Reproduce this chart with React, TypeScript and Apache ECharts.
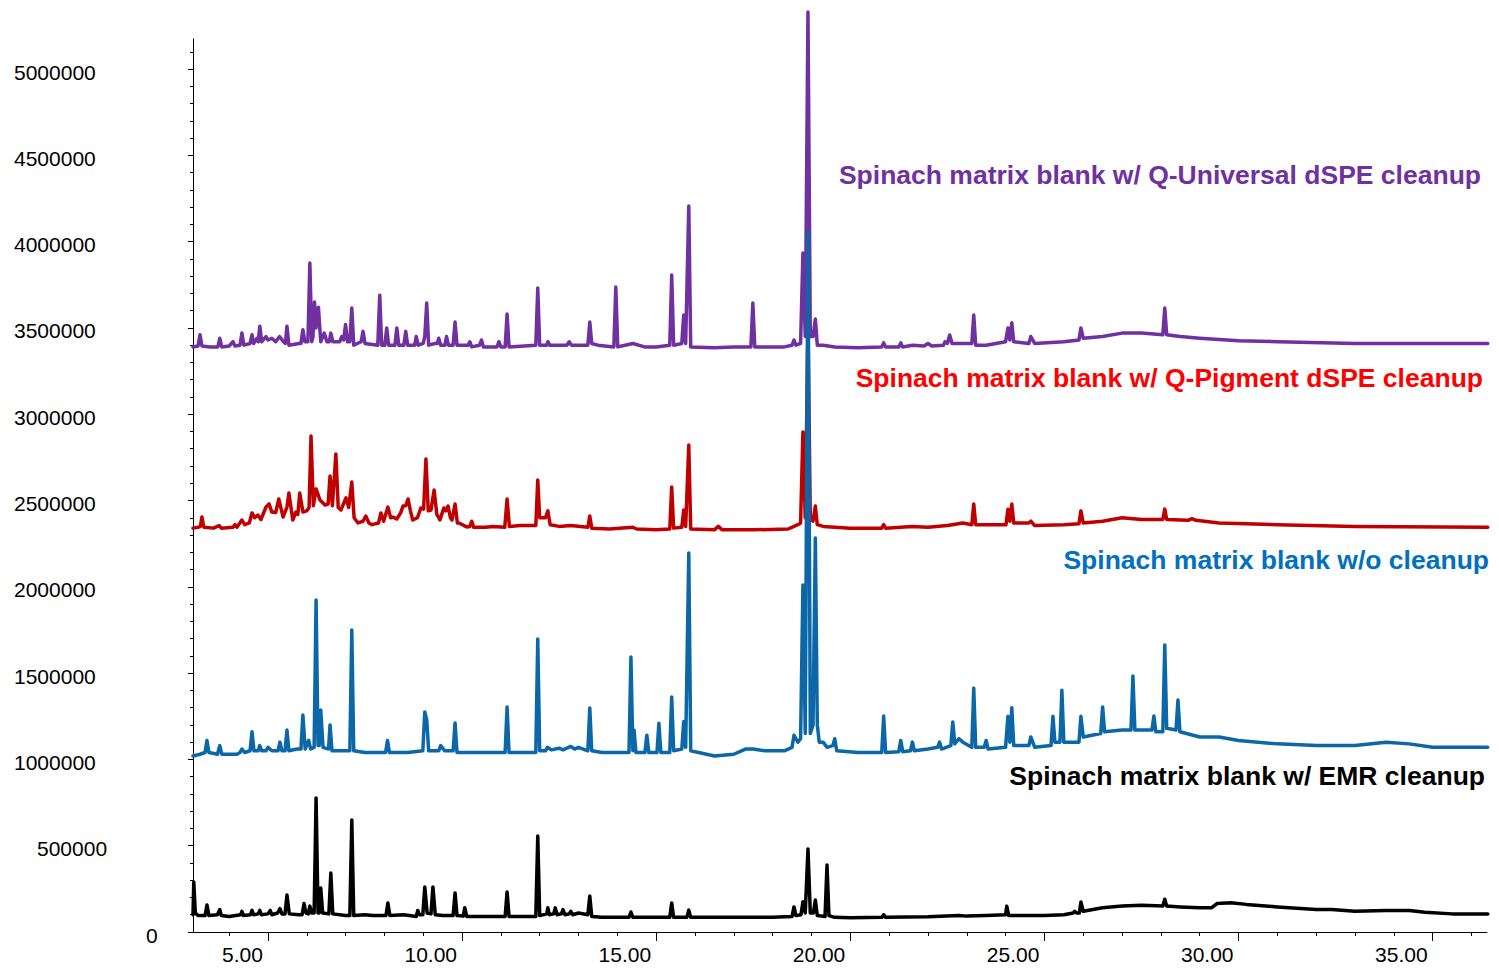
import React, { useEffect, useRef } from "react";
import * as echarts from "echarts";

// Retention time (min), abundance pairs
const purpleTrace: [number, number][] = [
  [3.07,3.39e6],[3.2,3.395e6],[3.25,3.46e6],[3.3,3.395e6],[3.5,3.39e6],[3.71,3.39e6],[3.76,3.44e6],[3.81,3.39e6],[4.0,3.395e6],[4.1,3.42e6],[4.15,3.395e6],[4.28,3.40e6],[4.33,3.47e6],[4.38,3.40e6],[4.54,3.41e6],[4.59,3.46e6],[4.63,3.41e6],[4.72,3.44e6],[4.75,3.42e6],[4.79,3.51e6],[4.84,3.42e6],[4.95,3.45e6],[5.0,3.43e6],[5.1,3.44e6],[5.2,3.42e6],[5.3,3.45e6],[5.4,3.42e6],[5.45,3.41e6],[5.49,3.51e6],[5.54,3.40e6],[5.8,3.41e6],[5.85,3.41e6],[5.9,3.49e6],[5.95,3.42e6],[6.03,3.42e6],[6.08,3.876e6],[6.13,3.42e6],[6.16,3.45e6],[6.2,3.65e6],[6.24,3.5e6],[6.3,3.62e6],[6.36,3.42e6],[6.45,3.47e6],[6.52,3.42e6],[6.58,3.42e6],[6.62,3.47e6],[6.67,3.42e6],[6.85,3.42e6],[6.9,3.45e6],[6.95,3.43e6],[7.0,3.52e6],[7.05,3.42e6],[7.11,3.42e6],[7.16,3.615e6],[7.21,3.40e6],[7.4,3.42e6],[7.45,3.48e6],[7.5,3.41e6],[7.83,3.40e6],[7.88,3.69e6],[7.93,3.40e6],[8.01,3.40e6],[8.06,3.50e6],[8.11,3.40e6],[8.27,3.40e6],[8.32,3.50e6],[8.37,3.40e6],[8.5,3.40e6],[8.55,3.48e6],[8.6,3.40e6],[8.78,3.40e6],[8.82,3.45e6],[8.87,3.40e6],[9.0,3.41e6],[9.04,3.45e6],[9.09,3.644e6],[9.14,3.40e6],[9.3,3.41e6],[9.36,3.41e6],[9.4,3.44e6],[9.45,3.40e6],[9.56,3.40e6],[9.6,3.45e6],[9.65,3.40e6],[9.77,3.40e6],[9.82,3.534e6],[9.87,3.40e6],[10.16,3.40e6],[10.2,3.42e6],[10.25,3.39e6],[10.45,3.40e6],[10.5,3.43e6],[10.55,3.39e6],[10.9,3.39e6],[10.95,3.42e6],[11.0,3.39e6],[11.11,3.39e6],[11.16,3.58e6],[11.21,3.39e6],[11.9,3.40e6],[11.95,3.731e6],[12.0,3.40e6],[12.18,3.40e6],[12.21,3.42e6],[12.26,3.40e6],[12.7,3.40e6],[12.76,3.42e6],[12.82,3.40e6],[13.24,3.40e6],[13.29,3.534e6],[13.34,3.41e6],[13.5,3.40e6],[13.91,3.39e6],[13.96,3.737e6],[14.01,3.39e6],[14.2,3.40e6],[14.4,3.41e6],[14.7,3.39e6],[15.0,3.39e6],[15.35,3.40e6],[15.4,3.807e6],[15.45,3.40e6],[15.66,3.41e6],[15.71,3.575e6],[15.76,3.41e6],[15.84,4.206e6],[15.89,3.39e6],[16.5,3.385e6],[17.0,3.39e6],[17.44,3.39e6],[17.49,3.644e6],[17.54,3.39e6],[18.3,3.39e6],[18.5,3.40e6],[18.55,3.43e6],[18.6,3.40e6],[18.72,3.41e6],[18.78,3.934e6],[18.84,3.45e6],[18.91,5.33e6],[18.97,3.45e6],[19.04,3.45e6],[19.1,3.552e6],[19.15,3.40e6],[19.3,3.40e6],[19.6,3.39e6],[20.2,3.385e6],[20.81,3.39e6],[20.86,3.413e6],[20.91,3.39e6],[21.25,3.39e6],[21.3,3.413e6],[21.35,3.39e6],[21.6,3.40e6],[21.9,3.395e6],[22.0,3.41e6],[22.1,3.395e6],[22.4,3.40e6],[22.44,3.42e6],[22.5,3.41e6],[22.56,3.459e6],[22.62,3.41e6],[23.13,3.41e6],[23.18,3.575e6],[23.23,3.40e6],[23.5,3.40e6],[24.0,3.42e6],[24.06,3.50e6],[24.11,3.43e6],[24.16,3.53e6],[24.21,3.42e6],[24.6,3.41e6],[24.65,3.45e6],[24.75,3.41e6],[25.5,3.42e6],[25.89,3.43e6],[25.94,3.50e6],[26.0,3.44e6],[26.5,3.45e6],[27.0,3.47e6],[27.5,3.47e6],[28.05,3.46e6],[28.1,3.615e6],[28.15,3.46e6],[28.5,3.45e6],[29.0,3.44e6],[30,3.425e6],[31,3.42e6],[33,3.41e6],[36.42,3.41e6]
];

const redTrace: [number, number][] = [
  [3.07,2.34e6],[3.2,2.345e6],[3.26,2.35e6],[3.3,2.404e6],[3.35,2.345e6],[3.6,2.34e6],[3.74,2.355e6],[3.8,2.34e6],[4.1,2.345e6],[4.15,2.36e6],[4.2,2.345e6],[4.33,2.387e6],[4.4,2.36e6],[4.52,2.37e6],[4.59,2.428e6],[4.66,2.40e6],[4.74,2.416e6],[4.82,2.39e6],[4.95,2.462e6],[5.03,2.48e6],[5.1,2.433e6],[5.2,2.43e6],[5.28,2.509e6],[5.39,2.404e6],[5.49,2.462e6],[5.54,2.544e6],[5.64,2.387e6],[5.72,2.433e6],[5.77,2.42e6],[5.82,2.544e6],[5.9,2.433e6],[6.0,2.44e6],[6.06,2.46e6],[6.11,2.874e6],[6.17,2.47e6],[6.24,2.567e6],[6.34,2.503e6],[6.47,2.474e6],[6.55,2.48e6],[6.6,2.642e6],[6.66,2.47e6],[6.75,2.77e6],[6.81,2.46e6],[6.88,2.445e6],[7.01,2.515e6],[7.08,2.46e6],[7.16,2.607e6],[7.22,2.40e6],[7.32,2.37e6],[7.45,2.38e6],[7.52,2.41e6],[7.6,2.37e6],[7.68,2.36e6],[7.85,2.37e6],[7.91,2.428e6],[7.98,2.38e6],[8.09,2.462e6],[8.16,2.40e6],[8.22,2.404e6],[8.32,2.393e6],[8.42,2.43e6],[8.48,2.468e6],[8.55,2.47e6],[8.61,2.509e6],[8.67,2.44e6],[8.73,2.387e6],[8.85,2.40e6],[8.94,2.457e6],[9.01,2.45e6],[9.07,2.741e6],[9.13,2.44e6],[9.2,2.445e6],[9.28,2.561e6],[9.35,2.42e6],[9.43,2.387e6],[9.53,2.457e6],[9.58,2.44e6],[9.64,2.468e6],[9.7,2.40e6],[9.74,2.387e6],[9.82,2.48e6],[9.88,2.37e6],[9.92,2.37e6],[10.12,2.347e6],[10.2,2.35e6],[10.25,2.38e6],[10.3,2.345e6],[10.6,2.345e6],[10.8,2.35e6],[11.1,2.345e6],[11.16,2.509e6],[11.22,2.35e6],[11.5,2.355e6],[11.9,2.355e6],[11.95,2.619e6],[12.0,2.40e6],[12.15,2.40e6],[12.21,2.44e6],[12.27,2.36e6],[12.5,2.35e6],[12.8,2.355e6],[13.24,2.345e6],[13.29,2.41e6],[13.34,2.34e6],[13.8,2.335e6],[14.4,2.345e6],[14.5,2.335e6],[15.0,2.33e6],[15.35,2.335e6],[15.4,2.578e6],[15.45,2.34e6],[15.66,2.345e6],[15.71,2.445e6],[15.76,2.35e6],[15.84,2.822e6],[15.89,2.335e6],[16.5,2.33e6],[16.6,2.35e6],[16.7,2.33e6],[17.5,2.33e6],[18.4,2.335e6],[18.55,2.35e6],[18.65,2.36e6],[18.72,2.37e6],[18.78,2.897e6],[18.84,2.40e6],[18.91,3.5e6],[18.97,2.40e6],[19.04,2.38e6],[19.1,2.468e6],[19.15,2.36e6],[19.3,2.35e6],[20.0,2.34e6],[20.81,2.34e6],[20.86,2.36e6],[20.91,2.34e6],[21.3,2.345e6],[21.6,2.35e6],[22.0,2.345e6],[22.5,2.355e6],[22.9,2.37e6],[23.13,2.36e6],[23.18,2.48e6],[23.23,2.36e6],[23.6,2.36e6],[24.01,2.36e6],[24.06,2.45e6],[24.11,2.38e6],[24.16,2.48e6],[24.21,2.37e6],[24.6,2.37e6],[24.65,2.38e6],[24.75,2.355e6],[25.5,2.36e6],[25.89,2.365e6],[25.94,2.44e6],[26.0,2.37e6],[26.5,2.38e6],[27.0,2.40e6],[27.5,2.39e6],[28.05,2.39e6],[28.1,2.45e6],[28.15,2.39e6],[28.7,2.385e6],[28.8,2.395e6],[28.9,2.385e6],[29.5,2.37e6],[31,2.36e6],[33,2.35e6],[36.42,2.345e6]
];

const blueTrace: [number, number][] = [
  [3.07,1.02e6],[3.25,1.03e6],[3.38,1.04e6],[3.43,1.11e6],[3.48,1.04e6],[3.7,1.03e6],[3.76,1.08e6],[3.81,1.03e6],[4.2,1.03e6],[4.28,1.04e6],[4.33,1.06e6],[4.4,1.04e6],[4.54,1.05e6],[4.59,1.16e6],[4.64,1.05e6],[4.75,1.05e6],[4.79,1.08e6],[4.84,1.05e6],[4.95,1.05e6],[5.0,1.07e6],[5.1,1.05e6],[5.26,1.05e6],[5.31,1.1e6],[5.36,1.05e6],[5.44,1.05e6],[5.49,1.17e6],[5.54,1.05e6],[5.75,1.06e6],[5.85,1.06e6],[5.9,1.257e6],[5.96,1.06e6],[6.05,1.11e6],[6.1,1.06e6],[6.19,1.07e6],[6.24,1.924e6],[6.29,1.08e6],[6.32,1.08e6],[6.36,1.286e6],[6.42,1.07e6],[6.56,1.06e6],[6.6,1.2e6],[6.65,1.05e6],[7.0,1.05e6],[7.11,1.05e6],[7.16,1.75e6],[7.21,1.05e6],[7.5,1.04e6],[8.03,1.04e6],[8.08,1.11e6],[8.13,1.04e6],[8.6,1.04e6],[8.99,1.05e6],[9.04,1.275e6],[9.09,1.23e6],[9.14,1.05e6],[9.4,1.05e6],[9.45,1.08e6],[9.55,1.05e6],[9.77,1.05e6],[9.82,1.211e6],[9.87,1.04e6],[10.5,1.04e6],[11.11,1.04e6],[11.16,1.304e6],[11.21,1.04e6],[11.9,1.04e6],[11.95,1.698e6],[12.0,1.05e6],[12.15,1.05e6],[12.2,1.07e6],[12.3,1.055e6],[12.5,1.065e6],[12.6,1.055e6],[12.8,1.075e6],[12.9,1.06e6],[13.0,1.07e6],[13.24,1.05e6],[13.29,1.298e6],[13.34,1.05e6],[13.6,1.04e6],[14.3,1.04e6],[14.35,1.593e6],[14.4,1.05e6],[14.43,1.17e6],[14.48,1.04e6],[14.71,1.04e6],[14.76,1.14e6],[14.81,1.04e6],[15.02,1.04e6],[15.07,1.21e6],[15.12,1.04e6],[15.35,1.04e6],[15.4,1.362e6],[15.45,1.05e6],[15.66,1.06e6],[15.71,1.22e6],[15.76,1.07e6],[15.84,2.196e6],[15.89,1.05e6],[16.5,1.02e6],[17.0,1.03e6],[17.3,1.06e6],[17.5,1.06e6],[17.8,1.05e6],[18.3,1.05e6],[18.5,1.07e6],[18.55,1.14e6],[18.65,1.1e6],[18.72,1.12e6],[18.78,2.01e6],[18.84,1.15e6],[18.91,4.056e6],[18.97,1.15e6],[19.04,1.2e6],[19.1,2.283e6],[19.15,1.2e6],[19.2,1.1e6],[19.3,1.1e6],[19.4,1.07e6],[19.55,1.08e6],[19.6,1.12e6],[19.65,1.05e6],[20.2,1.04e6],[20.81,1.04e6],[20.86,1.251e6],[20.91,1.04e6],[21.25,1.045e6],[21.3,1.11e6],[21.35,1.045e6],[21.55,1.05e6],[21.6,1.1e6],[21.65,1.05e6],[22.0,1.06e6],[22.25,1.07e6],[22.3,1.1e6],[22.35,1.06e6],[22.59,1.08e6],[22.64,1.217e6],[22.69,1.09e6],[22.8,1.12e6],[22.9,1.1e6],[23.13,1.07e6],[23.18,1.413e6],[23.23,1.07e6],[23.45,1.07e6],[23.5,1.11e6],[23.55,1.06e6],[24.0,1.07e6],[24.06,1.25e6],[24.11,1.1e6],[24.16,1.30e6],[24.21,1.08e6],[24.6,1.08e6],[24.65,1.13e6],[24.75,1.07e6],[25.17,1.08e6],[25.22,1.25e6],[25.27,1.1e6],[25.4,1.1e6],[25.45,1.40e6],[25.5,1.1e6],[25.89,1.1e6],[25.94,1.25e6],[26.0,1.13e6],[26.45,1.15e6],[26.5,1.304e6],[26.55,1.16e6],[27.0,1.17e6],[27.23,1.17e6],[27.28,1.483e6],[27.33,1.17e6],[27.77,1.17e6],[27.82,1.251e6],[27.87,1.16e6],[28.05,1.16e6],[28.1,1.663e6],[28.15,1.18e6],[28.39,1.17e6],[28.44,1.344e6],[28.49,1.16e6],[29.0,1.13e6],[29.5,1.13e6],[30,1.11e6],[31,1.09e6],[32,1.08e6],[32.35,1.08e6],[33,1.08e6],[33.8,1.1e6],[34.4,1.09e6],[35,1.07e6],[36.42,1.07e6]
];

const blackTrace: [number, number][] = [
  [3.07,100e3],[3.09,290e3],[3.13,110e3],[3.2,95e3],[3.38,95e3],[3.43,156e3],[3.48,95e3],[3.7,100e3],[3.76,130e3],[3.8,95e3],[4.0,90e3],[4.3,100e3],[4.33,120e3],[4.37,95e3],[4.55,100e3],[4.59,125e3],[4.63,100e3],[4.75,105e3],[4.79,125e3],[4.83,100e3],[5.0,105e3],[5.06,125e3],[5.1,100e3],[5.25,110e3],[5.31,135e3],[5.36,105e3],[5.44,105e3],[5.49,214e3],[5.55,105e3],[5.8,100e3],[5.88,100e3],[5.93,165e3],[5.98,110e3],[6.04,105e3],[6.08,150e3],[6.13,110e3],[6.19,110e3],[6.24,776e3],[6.29,110e3],[6.32,110e3],[6.36,255e3],[6.41,110e3],[6.57,105e3],[6.62,342e3],[6.67,105e3],[7.0,95e3],[7.11,95e3],[7.16,649e3],[7.21,95e3],[7.5,100e3],[7.7,95e3],[8.04,95e3],[8.09,168e3],[8.14,95e3],[8.5,100e3],[8.82,90e3],[8.86,125e3],[8.9,100e3],[8.99,100e3],[9.04,261e3],[9.1,110e3],[9.2,105e3],[9.25,261e3],[9.31,100e3],[9.5,95e3],[9.77,95e3],[9.82,226e3],[9.87,95e3],[10.03,92e3],[10.07,140e3],[10.12,90e3],[10.5,90e3],[11.11,90e3],[11.16,232e3],[11.21,90e3],[11.9,90e3],[11.95,556e3],[12.0,95e3],[12.18,105e3],[12.21,140e3],[12.25,100e3],[12.36,105e3],[12.4,140e3],[12.45,100e3],[12.56,105e3],[12.6,130e3],[12.65,100e3],[12.76,105e3],[12.8,120e3],[12.85,100e3],[13.0,110e3],[13.24,100e3],[13.29,209e3],[13.34,90e3],[13.6,85e3],[14.3,85e3],[14.35,116e3],[14.4,85e3],[15.35,85e3],[15.4,168e3],[15.45,85e3],[15.79,85e3],[15.84,127e3],[15.89,85e3],[17.0,85e3],[18.0,85e3],[18.5,90e3],[18.55,145e3],[18.6,95e3],[18.73,100e3],[18.78,175e3],[18.84,110e3],[18.91,481e3],[18.97,110e3],[19.05,110e3],[19.1,185e3],[19.15,95e3],[19.35,90e3],[19.4,388e3],[19.45,95e3],[19.6,85e3],[20.0,82e3],[20.81,85e3],[20.86,100e3],[20.91,85e3],[22.0,88e3],[22.8,95e3],[23.0,92e3],[23.5,95e3],[24.0,100e3],[24.03,150e3],[24.08,95e3],[25.0,95e3],[25.5,100e3],[25.74,110e3],[25.78,120e3],[25.83,110e3],[25.9,110e3],[25.94,174e3],[26.0,120e3],[26.5,140e3],[27.0,150e3],[27.5,155e3],[28.05,150e3],[28.1,190e3],[28.15,150e3],[28.5,145e3],[29.0,140e3],[29.3,140e3],[29.45,165e3],[29.8,170e3],[30.2,160e3],[31.0,145e3],[32.0,130e3],[32.4,130e3],[33.0,120e3],[33.8,125e3],[34.4,125e3],[34.8,115e3],[35.5,105e3],[36.42,105e3]
];

const yTickValues = [0, 500000, 1000000, 1500000, 2000000, 2500000, 3000000, 3500000, 4000000, 4500000, 5000000];
const yMinorTickValues = [100000,200000,300000,400000,600000,700000,800000,900000,1100000,1200000,1300000,1400000,1600000,1700000,1800000,1900000,2100000,2200000,2300000,2400000,2600000,2700000,2800000,2900000,3100000,3200000,3300000,3400000,3600000,3700000,3800000,3900000,4100000,4200000,4300000,4400000,4600000,4700000,4800000,4900000,5100000];
const xTickValues = [5, 10, 15, 20, 25, 30, 35];
const xMinorTickValues = [4,6,7,8,9,11,12,13,14,16,17,18,19,21,22,23,24,26,27,28,29,31,32,33,34,36];

const traceNames = [
  "Spinach matrix blank w/ Q-Universal dSPE cleanup",
  "Spinach matrix blank w/ Q-Pigment dSPE cleanup",
  "Spinach matrix blank w/o cleanup",
  "Spinach matrix blank w/ EMR cleanup",
];
const lineColors = ["#7030A0", "#C00000", "#0B67A8", "#000000"];
const labelColors = ["#7030A0", "#FF0000", "#0070C0", "#000000"];

const X_MIN = 3.07;
const X_MAX = 36.4;
const Y_MIN = 0;
const Y_MAX = 5174000;

export default function App() {
  const ref = useRef<HTMLDivElement>(null);
  useEffect(() => {
    if (!ref.current) return;
    const chart = echarts.init(ref.current, null, { renderer: "svg" });
    const font = "'Liberation Sans', Arial, sans-serif";
    const traces = [purpleTrace, redTrace, blueTrace, blackTrace];
    const labelPos = [
      { x: 1481, y: 175 },
      { x: 1483, y: 378 },
      { x: 1489, y: 560 },
      { x: 1485, y: 776 },
    ];
    chart.setOption({
      animation: false,
      backgroundColor: "#ffffff",
      grid: { left: 193, right: 1499 - 1487, top: 39, bottom: 973 - 932, containLabel: false },
      xAxis: [
        {
          type: "value",
          min: X_MIN,
          max: X_MAX,
          axisLine: { show: true, lineStyle: { color: "#000", width: 1 } },
          axisTick: { show: true, customValues: xTickValues, length: 9, lineStyle: { color: "#000" } },
          axisLabel: {
            show: true,
            customValues: xTickValues,
            formatter: (v: number) => v.toFixed(2),
            align: "right",
            margin: 12,
            padding: [0, 5, 0, 0],
            fontFamily: font,
            fontSize: 21,
            color: "#000",
          },
          splitLine: { show: false },
        },
        {
          type: "value",
          min: X_MIN,
          max: X_MAX,
          position: "bottom",
          axisLine: { show: false },
          axisTick: { show: true, customValues: xMinorTickValues, length: 4, lineStyle: { color: "#000" } },
          axisLabel: { show: false },
          splitLine: { show: false },
        },
      ],
      yAxis: [
        {
          type: "value",
          min: Y_MIN,
          max: Y_MAX,
          axisLine: { show: true, lineStyle: { color: "#000", width: 1 } },
          axisTick: { show: true, customValues: yTickValues, length: 5, lineStyle: { color: "#000" } },
          axisLabel: {
            show: true,
            customValues: yTickValues,
            align: "left",
            margin: 179,
            fontFamily: font,
            fontSize: 21,
            color: "#000",
            formatter: (v: number) => (v === 0 ? "{z|0}" : v < 1000000 ? "{s|" + v + "}" : "{l|" + v + "}"),
            rich: {
              l: { fontFamily: font, fontSize: 21, color: "#000", padding: [6, 0, 0, 0] },
              s: { fontFamily: font, fontSize: 21, color: "#000", padding: [6, 0, 0, 23] },
              z: { fontFamily: font, fontSize: 21, color: "#000", padding: [6, 0, 0, 132] },
            },
          },
          splitLine: { show: false },
        },
        {
          type: "value",
          min: Y_MIN,
          max: Y_MAX,
          position: "left",
          axisLine: { show: false },
          axisTick: { show: true, customValues: yMinorTickValues, length: 3, lineStyle: { color: "#000" } },
          axisLabel: { show: false },
          splitLine: { show: false },
        },
      ],
      series: traces.map((d, i) => ({
        type: "line",
        name: traceNames[i],
        data: d,
        xAxisIndex: 0,
        yAxisIndex: 0,
        showSymbol: false,
        symbol: "none",
        clip: false,
        lineStyle: { color: lineColors[i], width: 3.5, join: "round", cap: "round" },
        z: 2 + i,
      })),
      graphic: traceNames.map((name, i) => ({
        type: "text",
        right: 1499 - labelPos[i].x,
        top: labelPos[i].y - 14,
        style: {
          text: name,
          fill: labelColors[i],
          font: `bold 26.5px ${font}`,
        },
      })),
    });
    return () => chart.dispose();
  }, []);
  return (
    <div
      ref={ref}
      style={{ position: "absolute", left: 0, top: 0, width: 1499, height: 973 }}
    />
  );
}
